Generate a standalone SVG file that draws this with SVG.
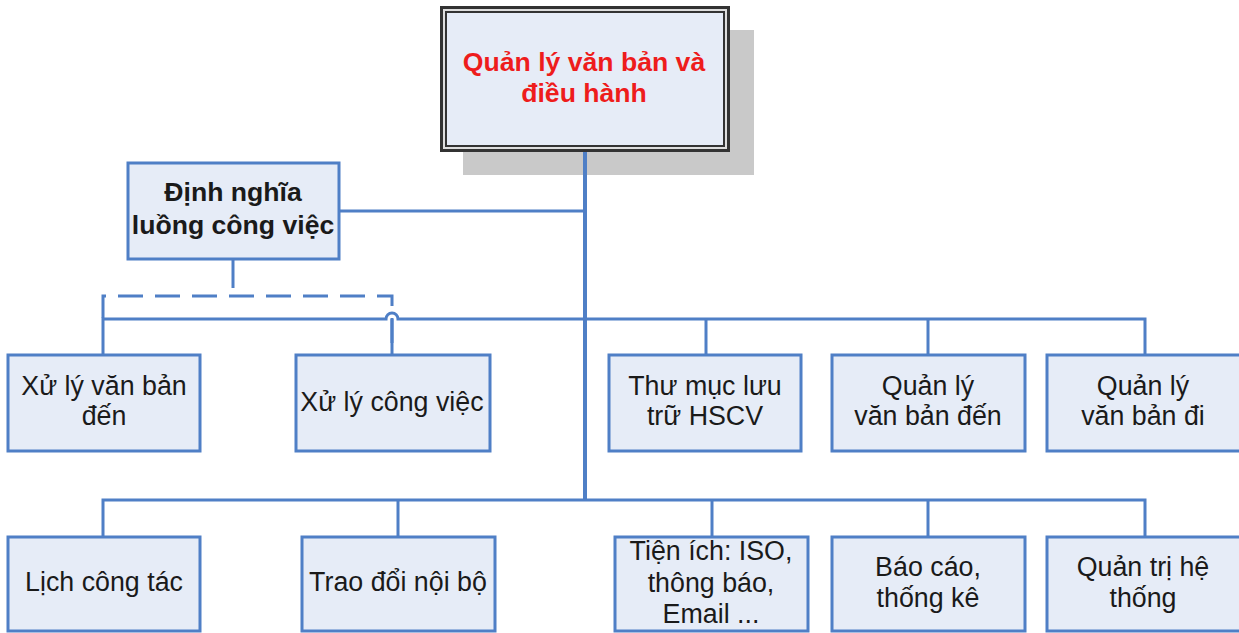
<svg xmlns="http://www.w3.org/2000/svg" width="1239" height="633" viewBox="0 0 1239 633">
<style>
.box{fill:#e6ecf7;stroke:#4f7fc6;stroke-width:3}
.ln{fill:none;stroke:#4f7fc6;stroke-width:3}
.t{font-family:"Liberation Sans",Arial,sans-serif;font-size:26.8px;fill:#1a1a1a;text-anchor:middle}
.b{font-weight:bold;font-size:26.6px}
.red{fill:#ee1c1c}
</style>
<rect width="1239" height="633" fill="#ffffff"/>
<g id="root">
<rect x="463" y="30" width="291" height="145" fill="#c9c9c9"/>
<rect x="441.5" y="7.5" width="287" height="143" fill="#dedede" stroke="#333" stroke-width="3"/>
<rect x="446" y="12" width="278" height="134" fill="#e6ecf7" stroke="#333" stroke-width="2"/>
<text class="t b red" x="584" y="71">Quản lý văn bản và</text>
<text class="t b red" x="584" y="102">điều hành</text>
</g>
<g id="connectors">
<path class="ln" d="M585,152 V499" style="stroke-width:4"/>
<path class="ln" d="M339,211 H585"/>
<path class="ln" d="M233,259 V288"/>
<path class="ln" d="M103,318 V296 H392 V355" stroke-dasharray="25,12"/>
<path class="ln" d="M103,355 V319 H386 A6,6 0 0 1 398,319 H1145 V355"/>
<path class="ln" d="M392,319 V355"/>
<path class="ln" d="M706,319 V355"/>
<path class="ln" d="M928,319 V355"/>
<path class="ln" d="M103,537 V500 H1145 V537"/>
<path class="ln" d="M398,500 V537"/>
<path class="ln" d="M712,500 V537"/>
<path class="ln" d="M928,500 V537"/>
</g>
<g id="dinhnghia">
<rect class="box" x="128" y="163" width="211" height="96"/>
<text class="t b" x="233" y="201">Định nghĩa</text>
<text class="t b" x="233" y="234">luồng công việc</text>
</g>
<g id="xlvbden">
<rect class="box" x="8" y="355" width="192" height="96"/>
<text class="t" x="104" y="395">Xử lý văn bản</text>
<text class="t" x="104" y="425">đến</text>
</g>
<g id="xlcv">
<rect class="box" x="296" y="355" width="194" height="96"/>
<text class="t" x="392" y="411">Xử lý công việc</text>
</g>
<g id="thumuc">
<rect class="box" x="609" y="355" width="192" height="96"/>
<text class="t" x="705" y="395">Thư mục lưu</text>
<text class="t" x="705" y="425">trữ HSCV</text>
</g>
<g id="qlvbden">
<rect class="box" x="832" y="355" width="193" height="96"/>
<text class="t" x="928" y="395">Quản lý</text>
<text class="t" x="928" y="425">văn bản đến</text>
</g>
<g id="qlvbdi">
<rect class="box" x="1047" y="355" width="194" height="96"/>
<text class="t" x="1143" y="395">Quản lý</text>
<text class="t" x="1143" y="425">văn bản đi</text>
</g>
<g id="lich">
<rect class="box" x="8" y="537" width="192" height="94"/>
<text class="t" x="104" y="591">Lịch công tác</text>
</g>
<g id="traodoi">
<rect class="box" x="302" y="537" width="193" height="94"/>
<text class="t" x="398" y="591">Trao đổi nội bộ</text>
</g>
<g id="tienich">
<rect class="box" x="615" y="537" width="193" height="94"/>
<text class="t" x="711" y="560">Tiện ích: ISO,</text>
<text class="t" x="711" y="592">thông báo,</text>
<text class="t" x="711" y="623">Email ...</text>
</g>
<g id="baocao">
<rect class="box" x="832" y="537" width="193" height="94"/>
<text class="t" x="928" y="576">Báo cáo,</text>
<text class="t" x="928" y="607">thống kê</text>
</g>
<g id="quantri">
<rect class="box" x="1047" y="537" width="194" height="94"/>
<text class="t" x="1143" y="576">Quản trị hệ</text>
<text class="t" x="1143" y="607">thống</text>
</g>
</svg>
